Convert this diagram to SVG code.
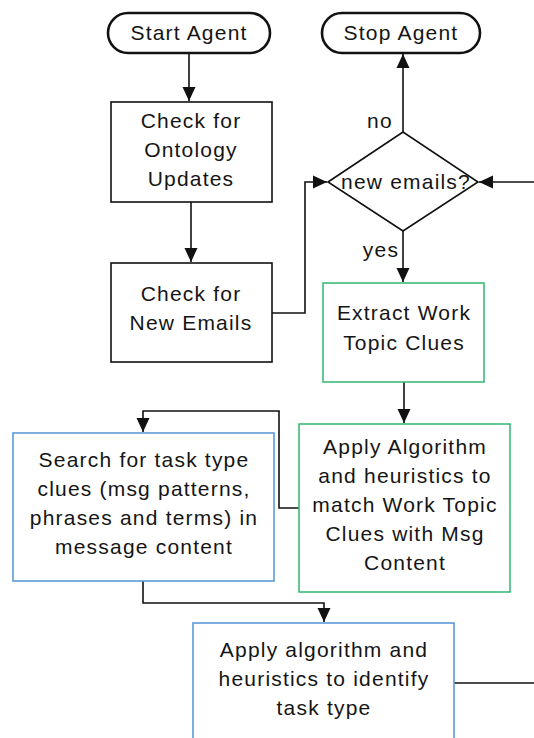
<svg xmlns="http://www.w3.org/2000/svg" width="534" height="738" viewBox="0 0 534 738">
  <style>
    text { font-family: "Liberation Sans", Arial, sans-serif; font-size: 21px; fill: #151515; text-anchor: middle; letter-spacing: 1.2px; }
    .term { fill: #fff; stroke: #111; stroke-width: 2.6; }
    .box { fill: #fff; stroke: #111; stroke-width: 1.6; }
    .green { fill: #fff; stroke: #3dbb78; stroke-width: 1.6; }
    .blue { fill: #fff; stroke: #5b9bd5; stroke-width: 1.6; }
    .link { fill: none; stroke: #111; stroke-width: 1.6; }
    .arrow { marker-end: url(#head); }
  </style>
  <defs>
    <marker id="head" markerUnits="userSpaceOnUse" markerWidth="16" markerHeight="16" viewBox="0 0 16 16" refX="14" refY="8" orient="auto">
      <path d="M0,1.5 L14,8 L0,14.5 Z" fill="#111"/>
    </marker>
  </defs>

  <rect width="534" height="738" fill="#fff"/>

  <g id="connectors">
    <path class="link arrow" d="M189,53 V101"/>
    <path class="link arrow" d="M191,202 V262"/>
    <path class="link arrow" d="M272,313 H305 V182 H327"/>
    <path class="link arrow" d="M534,182 H479"/>
    <path class="link arrow" d="M403,132 V54"/>
    <path class="link arrow" d="M403,231 V282"/>
    <path class="link arrow" d="M404,382 V423"/>
    <path class="link arrow" d="M299,508 H279 V411 H143 V432"/>
    <path class="link arrow" d="M143,581 V603 H324 V622"/>
    <path class="link" d="M454,683 H534"/>
    <text x="380" y="128">no</text>
    <text x="381" y="257">yes</text>
  </g>

  <g id="start-agent">
    <rect class="term" x="108" y="13" width="162" height="40" rx="20"/>
    <text x="189" y="40">Start Agent</text>
  </g>

  <g id="stop-agent">
    <rect class="term" x="322" y="13" width="158" height="40" rx="20"/>
    <text x="401" y="40">Stop Agent</text>
  </g>

  <g id="check-ontology">
    <rect class="box" x="111" y="102" width="161" height="100"/>
    <text x="191" y="128">Check for</text>
    <text x="191" y="157">Ontology</text>
    <text x="191" y="186">Updates</text>
  </g>

  <g id="check-emails">
    <rect class="box" x="111" y="263" width="161" height="99"/>
    <text x="191" y="301">Check for</text>
    <text x="191" y="330">New Emails</text>
  </g>

  <g id="new-emails-decision">
    <polygon class="box" points="328,182 403,132 478,182 403,231"/>
    <text x="406" y="189">new emails?</text>
  </g>

  <g id="extract-clues">
    <rect class="green" x="323" y="283" width="161" height="99"/>
    <text x="404" y="320">Extract Work</text>
    <text x="404" y="350">Topic Clues</text>
  </g>

  <g id="match-clues">
    <rect class="green" x="299" y="424" width="211" height="168"/>
    <text x="405" y="454">Apply Algorithm</text>
    <text x="405" y="483">and heuristics to</text>
    <text x="405" y="512">match Work Topic</text>
    <text x="405" y="541">Clues with Msg</text>
    <text x="405" y="570">Content</text>
  </g>

  <g id="search-task-clues">
    <rect class="blue" x="13" y="433" width="261" height="148"/>
    <text x="144" y="467">Search for task type</text>
    <text x="144" y="496">clues (msg patterns,</text>
    <text x="144" y="525">phrases and terms) in</text>
    <text x="144" y="554">message content</text>
  </g>

  <g id="identify-task-type">
    <rect class="blue" x="193" y="623" width="261" height="130"/>
    <text x="324" y="657">Apply algorithm and</text>
    <text x="324" y="686">heuristics to identify</text>
    <text x="324" y="715">task type</text>
  </g>
</svg>
